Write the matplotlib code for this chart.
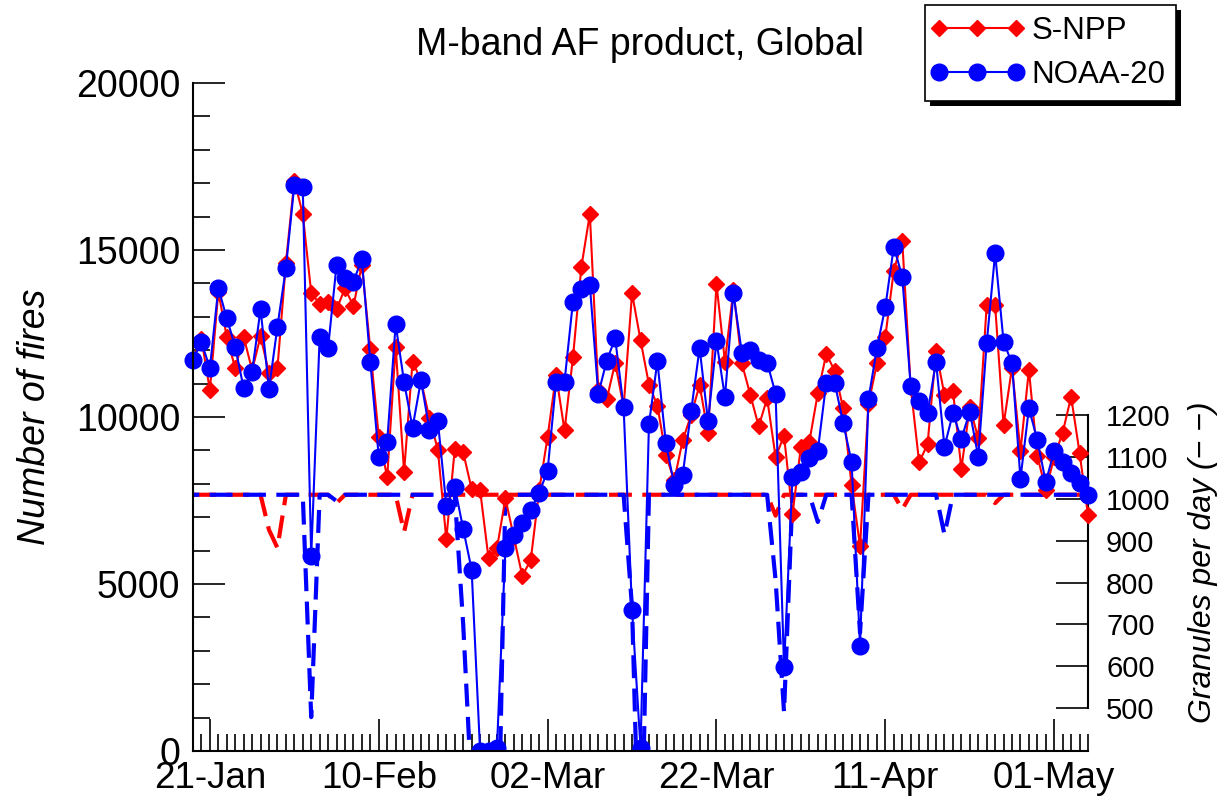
import matplotlib
matplotlib.use('Agg')
import matplotlib.pyplot as plt
import matplotlib.dates as mdates
from matplotlib.patches import Rectangle
from matplotlib.legend_handler import HandlerLine2D
from matplotlib.ticker import MultipleLocator
import numpy as np

plt.rcParams['font.family'] = ['Liberation Sans', 'DejaVu Sans']

# one value per day, 19-Jan to 05-May
dates = np.arange(np.datetime64('2019-01-19'), np.datetime64('2019-05-06'))

npp_fires = [
    11750, 12330, 10808, 13750, 12400, 11457, 12405, 11400, 12415, 11320,
    11457, 14601, 17075, 16078, 13722, 13383, 13452, 13224, 13853, 13323,
    14551, 12026, 9411, 8204, 12106, 8363, 11656, 11100, 9960, 9022,
    6340, 9037, 8947, 7840, 7815, 5769, 6068, 7565, 6400, 5245,
    5718, 7800, 9411, 11257, 9600, 11786, 14501, 16078, 10808, 10529,
    11626, 10300, 13703, 12305, 10973, 10344, 8857, 8100, 9311, 10060,
    10958, 9511, 13982, 11656, 13802, 11607, 10669, 9720, 10559, 8800,
    9436, 7090, 9111, 9261, 10709, 11886, 11387, 10260, 7964, 6138,
    10389, 11607, 12405, 14381, 15279, 10900, 8640, 9190, 11980, 10659,
    10790, 8450, 10300, 9361, 13340, 13340, 9760, 11480, 8977, 11407,
    8837, 7815, 8800, 9535, 10608, 8930, 7066,
]

n20_fires = [
    11707, 12240, 11460, 13860, 12960, 12100, 10860, 11350, 13230, 10835,
    12704, 14455, 16946, 16886, 5838, 12395, 12066, 14551, 14162, 14052,
    14730, 11647, 8810, 9261, 12775, 11048, 9680, 11098, 9620, 9880,
    7350, 7913, 6652, 5430, 0, 0, 100, 6068, 6467, 6817,
    7225, 7725, 8398, 11058, 11058, 13452, 13823, 13952, 10689, 11686,
    12356, 10290, 4222, 100, 9780, 11670, 9220, 7964, 8274, 10185,
    12066, 9870, 12270, 10594, 13703, 11930, 11996, 11697, 11630, 10699,
    2520, 8190, 8344, 8764, 8992, 11028, 11028, 9820, 8662, 3144,
    10539, 12056, 13303, 15099, 14201, 10938, 10479, 10115, 11656, 9111,
    10110, 9346, 10160, 8812, 12206, 14900, 12256, 11607, 8150, 10260,
    9311, 8050, 8992, 8640, 8314, 8014, 7650,
]

npp_granules = [
    1010, 1010, 1010, 1010, 1010, 1010, 1010, 1010, 1010, 926,
    883, 1010, 1010, 1010, 1010, 1010, 1010, 990, 1010, 1010,
    1010, 1010, 1010, 1010, 1010, 921, 1010, 1010, 1010, 1010,
    1010, 1010, 1010, 1010, 1010, 1010, 1010, 1010, 1010, 1010,
    1010, 1010, 1010, 1010, 1010, 1010, 1010, 1010, 1010, 1010,
    1010, 1010, 1010, 1010, 1010, 1010, 1010, 1010, 1010, 1010,
    1010, 1010, 1010, 1010, 1010, 1010, 1010, 1010, 1010, 960,
    1010, 1010, 1010, 1010, 1010, 1010, 1010, 1010, 1010, 1010,
    1010, 1010, 1010, 1010, 975, 1010, 1010, 1010, 1010, 1010,
    1010, 1010, 1010, 1010, 1010, 990, 1010, 1010, 1010, 1010,
    1010, 1010, 1010, 1010, 1010, 1010, 1010,
]

n20_granules = [
    1010, 1010, 1010, 1010, 1010, 1010, 1010, 1010, 1010, 1010,
    1010, 1010, 1010, 1010, 478, 1010, 1010, 995, 1010, 1010,
    1010, 1010, 1010, 1010, 1010, 1010, 1010, 1010, 1010, 1010,
    1010, 1010, 700, 300, 0, 0, 0, 1010, 1010, 1010,
    1010, 1010, 1010, 1010, 1010, 1010, 1010, 1010, 1010, 1010,
    1010, 1010, 740, 0, 1010, 1010, 1010, 1010, 1010, 1010,
    1010, 1010, 1010, 1010, 1010, 1010, 1010, 1010, 1010, 806,
    490, 1010, 1010, 1010, 945, 1010, 1010, 1010, 1010, 680,
    1010, 1010, 1010, 1010, 1010, 1010, 1010, 1010, 1010, 915,
    1010, 1010, 1010, 1010, 1010, 1010, 1010, 1010, 1010, 1010,
    1010, 1010, 1010, 1010, 1010, 1010, 1010,
]

series_names = ['S-NPP', 'NOAA-20']
major_dates = ['2019-01-21', '2019-02-10', '2019-03-02', '2019-03-22', '2019-04-11', '2019-05-01']

W, H = 1223, 798
fig = plt.figure(figsize=(W / 100, H / 100), dpi=100)
ax = fig.add_axes([193 / W, 47 / H, 895 / W, 668 / H])
ax2 = ax.twinx()
ax.set_zorder(ax2.get_zorder() + 1)
ax.patch.set_visible(False)

# granules (right axis), dashed
ax2.plot(dates, npp_granules, color='red', lw=3, ls=(0, (5.5, 2.5)))
ax2.plot(dates, n20_granules, color='blue', lw=3, ls=(4, (5.5, 2.5)))

# fire counts (left axis)
l1, = ax.plot(dates, npp_fires, color='red', lw=1.5, marker='D', ms=8, mec='red')
l2, = ax.plot(dates, n20_fires, color='blue', lw=1.5, marker='o', ms=12, mec='blue')
clip = Rectangle((-0.03, 0), 1.06, 1.2, transform=ax.transAxes)
for ln in (l1, l2):
    ln.set_clip_path(clip)

ax.set_xlim(dates[0], dates[-1])
ax.set_ylim(0, 20000)
ax2.set_ylim(397, 1995)

ax.set_yticks([0, 5000, 10000, 15000, 20000])
ax.yaxis.set_minor_locator(MultipleLocator(1000))
ax.set_xticks(np.array(major_dates, dtype='datetime64[D]'))
ax.xaxis.set_major_formatter(mdates.DateFormatter('%d-%b'))
ax.xaxis.set_minor_locator(mdates.DayLocator())

ax.tick_params(which='major', direction='in', length=23, width=1.2)
ax.tick_params(which='minor', direction='in', length=12, width=1.2)
ax.tick_params(axis='x', labelsize=26.5, pad=7)
ax.tick_params(axis='y', labelsize=27, pad=9)
for s in ['top', 'right']:
    ax.spines[s].set_visible(False)
for s in ['left', 'bottom']:
    ax.spines[s].set_linewidth(1.5)
for s in ['top', 'left', 'bottom']:
    ax2.spines[s].set_visible(False)
ax2.spines['right'].set_bounds(500, 1200)
ax2.spines['right'].set_linewidth(1.5)
ax2.set_yticks(range(500, 1300, 100))
ax2.tick_params(direction='in', length=23, width=1.2, labelsize=21, pad=13)

fig.text(640 / W, 1 - 45 / H, 'M-band AF product, Global', ha='center', va='center', fontsize=27)
fig.text(35 / W, 1 - 417 / H, 'Number of fires', rotation=90, ha='center', va='center',
         fontsize=27, style='italic')
fig.text(1203 / W, 1 - 562 / H, 'Granules per day (\u2212 \u2212)', rotation=90, ha='center',
         va='center', fontsize=23, style='italic')

hm = {l1: HandlerLine2D(marker_pad=0.1), l2: HandlerLine2D(marker_pad=0.1)}
leg = fig.legend([l1, l2], series_names, loc='upper left', bbox_to_anchor=(925 / W, 1 - 5 / H),
                 fontsize=22.5, numpoints=3, handlelength=2.65, handletextpad=0.4,
                 borderpad=0.35, labelspacing=0.45, borderaxespad=0, fancybox=False,
                 framealpha=1, edgecolor='black', handler_map=hm)
leg.get_frame().set_linewidth(1.2)
fig.canvas.draw()
bb = leg.get_window_extent().transformed(fig.transFigure.inverted())
fig.add_artist(Rectangle((bb.x0 + 5 / W, bb.y0 - 5 / H), bb.width, bb.height,
                         transform=fig.transFigure, facecolor='black', edgecolor='none', zorder=4))

fig.savefig('out.png', dpi=100)
